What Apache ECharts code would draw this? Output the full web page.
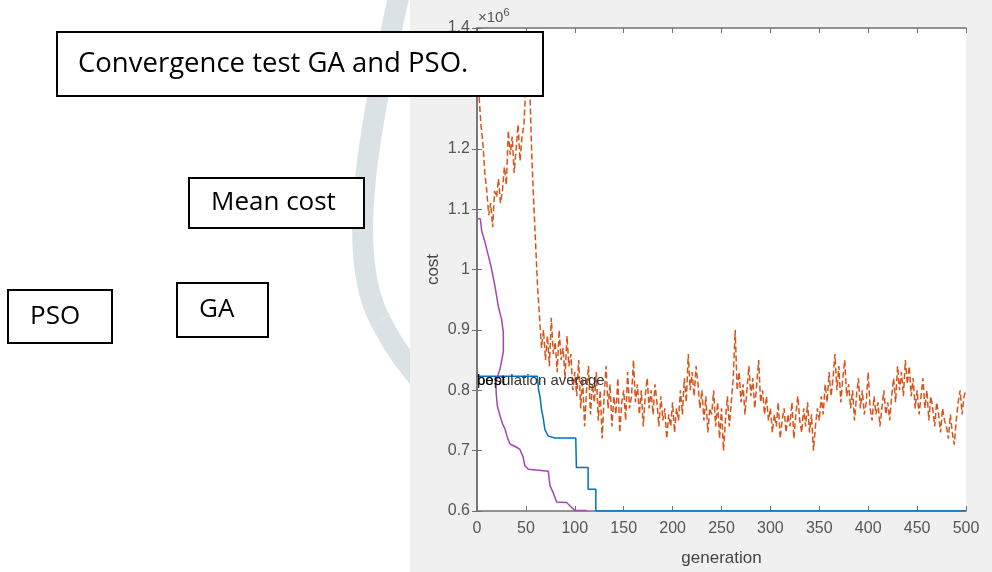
<!DOCTYPE html>
<html>
<head>
<meta charset="utf-8">
<script src="https://cdn.jsdelivr.net/npm/echarts@6/dist/echarts.min.js"></script>
<style>
  html, body { margin: 0; padding: 0; background: #fff; }
  #main { width: 992px; height: 572px; }
</style>
</head>
<body>
<div id="main"></div>
<script>
// tick labels
const genTicks = [0, 50, 100, 150, 200, 250, 300, 350, 400, 450, 500];
const costTicks = ['0.6', '0.7', '0.8', '0.9', '1', '1.1', '1.2', '1.3', '1.4'];

// population average cost (x10^6), one value every 2 generations
const avgStep = 2;
const avgCost = [
  1.36, 1.29, 1.24, 1.21, 1.16, 1.13, 1.09, 1.11, 1.07, 1.13,
  1.12, 1.15, 1.11, 1.13, 1.17, 1.14, 1.23, 1.19, 1.22, 1.16,
  1.20, 1.24, 1.18, 1.22, 1.24, 1.31, 1.38, 1.30, 1.19, 1.11,
  1.04, 0.97, 0.92, 0.87, 0.90, 0.85, 0.89, 0.84, 0.92, 0.86,
  0.88, 0.83, 0.90, 0.85, 0.87, 0.82, 0.89, 0.84, 0.86, 0.80,
  0.83, 0.79, 0.85, 0.77, 0.82, 0.74, 0.80, 0.84, 0.76, 0.81,
  0.78, 0.83, 0.75, 0.80, 0.72, 0.79, 0.84, 0.77, 0.81, 0.74,
  0.79, 0.76, 0.82, 0.73, 0.78, 0.80, 0.75, 0.83, 0.77, 0.79,
  0.85, 0.78, 0.81, 0.76, 0.80, 0.74, 0.79, 0.82, 0.77, 0.80,
  0.76, 0.81, 0.78, 0.74, 0.79, 0.75, 0.77, 0.72, 0.76, 0.74,
  0.78, 0.73, 0.77, 0.75, 0.80, 0.76, 0.82, 0.78, 0.86, 0.80,
  0.83, 0.79, 0.84, 0.81, 0.77, 0.80, 0.75, 0.79, 0.73, 0.77,
  0.76, 0.80, 0.74, 0.78, 0.72, 0.77, 0.70, 0.75, 0.79, 0.74,
  0.78, 0.82, 0.90, 0.80, 0.83, 0.78, 0.81, 0.76, 0.80, 0.84,
  0.79, 0.82, 0.77, 0.81, 0.85, 0.78, 0.80, 0.76, 0.79, 0.75,
  0.77, 0.73, 0.76, 0.74, 0.78, 0.72, 0.75, 0.77, 0.73, 0.76,
  0.74, 0.78, 0.72, 0.76, 0.79, 0.75, 0.73, 0.77, 0.74, 0.78,
  0.73, 0.76, 0.70, 0.74, 0.77, 0.75, 0.79, 0.76, 0.81, 0.78,
  0.83, 0.79, 0.82, 0.86, 0.80, 0.84, 0.78, 0.82, 0.85, 0.79,
  0.81, 0.77, 0.80, 0.75, 0.79, 0.82, 0.77, 0.80, 0.76, 0.78,
  0.83, 0.77, 0.75, 0.79, 0.76, 0.78, 0.74, 0.77, 0.80, 0.76,
  0.78, 0.75, 0.79, 0.82, 0.78, 0.84, 0.80, 0.83, 0.79, 0.85,
  0.81, 0.84, 0.79, 0.82, 0.77, 0.80, 0.76, 0.79, 0.82, 0.77,
  0.80, 0.75, 0.79, 0.77, 0.74, 0.78, 0.76, 0.73, 0.77, 0.75,
  0.74, 0.72, 0.76, 0.73, 0.71, 0.75, 0.78, 0.80, 0.76, 0.79,
  0.80
];

// best cost (blue), staircase corners
const bestGen  = [0, 61.7, 63, 64.4, 66, 67.7, 69.4, 72.8, 79.6, 101, 101.6, 113.6, 113.6, 121.5, 121.5, 500];
const bestCost = [0.823, 0.823, 0.80, 0.79, 0.768, 0.754, 0.735, 0.724, 0.721, 0.721, 0.672, 0.672, 0.636, 0.636, 0.6, 0.6];

// PSO cost (purple)
const psoGen  = [0, 3.4, 4.8, 8.2, 11.6, 15, 18.4, 21.8, 25.2, 26.9, 26.9, 23.5, 20.1, 19.4, 19.6, 20.8, 23.5, 26, 28.6, 31, 33.7, 40, 43.9, 47, 49, 52.5, 72.9, 74.6, 78, 81.4, 91.6, 96, 100, 112];
const psoCost = [1.084, 1.084, 1.064, 1.045, 1.023, 1.0, 0.972, 0.939, 0.917, 0.896, 0.863, 0.835, 0.818, 0.813, 0.795, 0.774, 0.758, 0.745, 0.736, 0.722, 0.711, 0.706, 0.702, 0.69, 0.675, 0.669, 0.666, 0.642, 0.63, 0.615, 0.614, 0.607, 0.601, 0.601];

const avgData = avgCost.map((v, i) => [i * avgStep, v]);
const bestData = bestGen.map((g, i) => [g, bestCost[i]]);
const psoData = psoGen.map((g, i) => [g, psoCost[i]]);

const axisColor = '#707070';
const labelFont = 'Liberation Sans Narrow, Liberation Sans, Arial, sans-serif';
const boxFont = 'Open Sans, Noto Sans, sans-serif';

function box(x, y, w, h, text, tx, size) {
  return [
    { type: 'rect', z: 100, shape: { x: x, y: y, width: w, height: h },
      style: { fill: '#fff', stroke: '#000', lineWidth: 2 } },
    { type: 'text', z: 101, style: { x: tx, y: y + h / 2, text: text, fill: '#000',
      font: size + 'px ' + boxFont, textVerticalAlign: 'middle' } }
  ];
}

const myChart = echarts.init(document.getElementById('main'));
const option = {
  animation: false,
  backgroundColor: '#fff',
  grid: { left: 477, right: 26, top: 28, bottom: 60, show: true, backgroundColor: '#fff', borderWidth: 0 },
  xAxis: [
    {
      type: 'value', min: 0, max: 500, interval: 50,
      name: 'generation', nameLocation: 'middle', nameGap: 39,
      nameTextStyle: { color: '#444', fontSize: 17, fontFamily: labelFont },
      axisLine: { lineStyle: { color: axisColor, width: 1.5 } },
      axisTick: { inside: true, length: 5, lineStyle: { color: axisColor } },
      axisLabel: { color: '#555', fontSize: 16, fontFamily: labelFont, margin: 10,
        formatter: v => String(genTicks[Math.round(v / 50)]) },
      splitLine: { show: false }
    },
    {
      type: 'value', position: 'top', min: 0, max: 500, interval: 50,
      axisLine: { lineStyle: { color: axisColor, width: 1.5 } },
      axisTick: { inside: true, length: 5, lineStyle: { color: axisColor } },
      axisLabel: { show: false }, splitLine: { show: false }
    }
  ],
  yAxis: [
    {
      type: 'value', min: 0.6, max: 1.4, interval: 0.1,
      name: 'cost', nameLocation: 'middle', nameGap: 35, nameRotate: 90,
      nameTextStyle: { color: '#444', fontSize: 17, fontFamily: labelFont },
      axisLine: { lineStyle: { color: axisColor, width: 1.5 } },
      axisTick: { inside: true, length: 5, lineStyle: { color: axisColor } },
      axisLabel: { color: '#555', fontSize: 16, fontFamily: labelFont, margin: 7,
        formatter: v => costTicks[Math.round((v - 0.6) * 10)] },
      splitLine: { show: false }
    },
    {
      type: 'value', position: 'right', min: 0.6, max: 1.4, interval: 0.1,
      axisLine: { lineStyle: { color: axisColor, width: 1.5 } },
      axisTick: { inside: true, length: 5, lineStyle: { color: axisColor } },
      axisLabel: { show: false }, splitLine: { show: false }
    }
  ],
  series: [
    {
      name: 'population average', type: 'line', data: avgData, showSymbol: false,
      lineStyle: { color: '#D95319', width: 1.5, type: [6, 3] }, z: 3
    },
    {
      name: 'best', type: 'line', data: bestData, showSymbol: false,
      lineStyle: { color: '#0072BD', width: 1.5 }, z: 4
    },
    {
      name: 'pso', type: 'line', data: psoData, showSymbol: false,
      lineStyle: { color: '#A346B0', width: 1.5 }, z: 4
    }
  ],
  graphic: [
    // curved band behind the figure
    { type: 'bezierCurve', z: -20,
      shape: { x1: 400, y1: -10, cpx1: 372, cpy1: 120, cpx2: 343, cpy2: 250, x2: 380, y2: 320 },
      style: { fill: null, stroke: '#dbe2e6', lineWidth: 21 } },
    { type: 'bezierCurve', z: -20,
      shape: { x1: 380, y1: 320, cpx1: 395, cpy1: 350, cpx2: 410, cpy2: 370, x2: 430, y2: 390 },
      style: { fill: null, stroke: '#dbe2e6', lineWidth: 21 } },
    // figure background
    { type: 'rect', z: -10, shape: { x: 410, y: 0, width: 582, height: 572 }, style: { fill: '#f0f0f0' } },
    // exponent
    { type: 'text', z: 50, style: { x: 478, y: 18, text: '{a|×10}{b|6}', textVerticalAlign: 'middle',
      rich: { a: { fontSize: 15, fill: '#555', fontFamily: labelFont },
              b: { fontSize: 11, fill: '#555', fontFamily: labelFont, padding: [0, 0, 10, 0] } } } },
    // overlapping curve labels
    { type: 'text', z: 50, style: { x: 477, y: 381, text: 'population average', fill: '#333',
      font: '15px ' + labelFont, textVerticalAlign: 'middle' } },
    { type: 'text', z: 51, style: { x: 477, y: 381, text: 'best', fill: '#000',
      font: '15px ' + labelFont, textVerticalAlign: 'middle' } }
  ]
    .concat(box(57, 32, 486, 64, 'Convergence test GA and PSO.', 78, 27.5))
    .concat(box(189, 178, 175, 50, 'Mean cost', 211, 26))
    .concat(box(8, 290, 104, 53, 'PSO', 30, 26))
    .concat(box(177, 283, 91, 54, 'GA', 199, 26))
};
myChart.setOption(option);
</script>
</body>
</html>
